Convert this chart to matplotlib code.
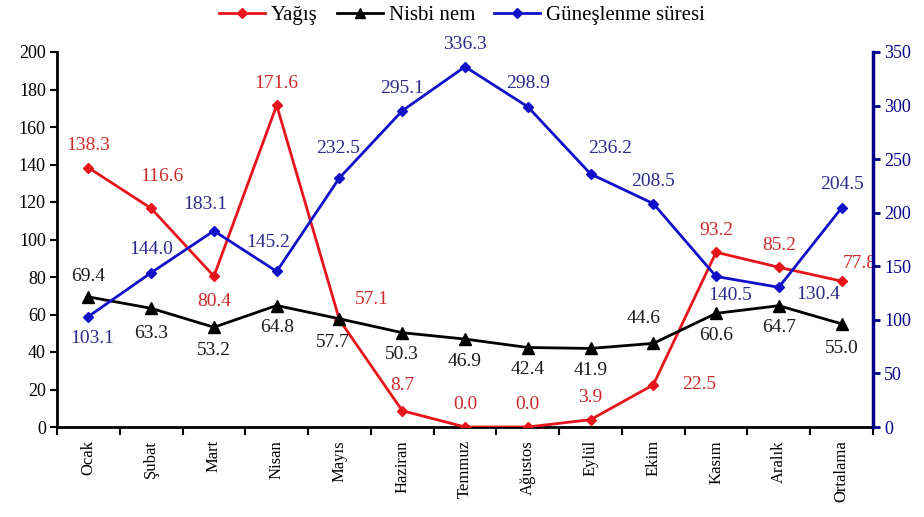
import matplotlib
matplotlib.use('Agg')
import matplotlib.pyplot as plt
import numpy as np
from matplotlib.lines import Line2D

plt.rcParams['font.family'] = ['Liberation Serif', 'DejaVu Serif']

months = ['Ocak', 'Şubat', 'Mart', 'Nisan', 'Mayıs', 'Haziran', 'Temmuz',
          'Ağustos', 'Eylül', 'Ekim', 'Kasım', 'Aralık', 'Ortalama']
yagis = [138.3, 116.6, 80.4, 171.6, 57.1, 8.7, 0.0, 0.0, 3.9, 22.5, 93.2, 85.2, 77.8]
nem = [69.4, 63.3, 53.2, 64.8, 57.7, 50.3, 46.9, 42.4, 41.9, 44.6, 60.6, 64.7, 55.0]
gunes = [103.1, 144.0, 183.1, 145.2, 232.5, 295.1, 336.3, 298.9, 236.2, 208.5,
         140.5, 130.4, 204.5]

# label offsets in points (dx, dy) for each series
off_yagis = [(0, 16), (8, 23), (0, -18), (0, 16), (23, 15), (0, 18), (0, 16),
             (0, 16), (0, 16), (33, 0), (0, 16), (0, 16), (13, 13)]
off_nem = [(0, 15), (0, -18), (0, -17), (0, -16), (-5, -17), (0, -16), (0, -16),
           (0, -16), (0, -16), (-7, 18), (0, -16), (0, -16), (0, -18)]
off_gunes = [(3, -16), (0, 17), (-6, 19), (-6, 21), (-1, 21), (0, 16), (0, 16),
             (0, 17), (14, 18), (0, 16), (10, -14), (28, -5), (0, 17)]

RED = '#e8141c'
BLACK = '#000000'
BLUE = '#1010c8'
NAVY = '#00008b'

fig = plt.figure(figsize=(9.24, 5.17), dpi=100)
ax = fig.add_axes([57/924, 90/517, 816/924, 375/517])
ax2 = ax.twinx()

x = np.arange(len(months))

ax.plot(x, yagis, color=RED, lw=2, marker='D', ms=5, zorder=3)
ax.plot(x, nem, color=BLACK, lw=2, marker='^', ms=8, zorder=3)
ax2.plot(x, gunes, color=BLUE, lw=2, marker='D', ms=5, zorder=3)

for xi, v, (dx, dy) in zip(x, yagis, off_yagis):
    ax.annotate(f'{v:.1f}', (xi, v), xytext=(dx, dy), textcoords='offset points',
                ha='center', va='center', fontsize=14, color='#cc2a2a')
for xi, v, (dx, dy) in zip(x, nem, off_nem):
    ax.annotate(f'{v:.1f}', (xi, v), xytext=(dx, dy), textcoords='offset points',
                ha='center', va='center', fontsize=14, color='#1a1a1a')
for xi, v, (dx, dy) in zip(x, gunes, off_gunes):
    ax2.annotate(f'{v:.1f}', (xi, v), xytext=(dx, dy), textcoords='offset points',
                 ha='center', va='center', fontsize=14, color='#2a2a8c')

ax.set_xlim(-0.5, len(months) - 0.5)
ax.set_ylim(0, 200)
ax.set_yticks(np.arange(0, 201, 20))
ax2.set_ylim(0, 350)
ax2.set_yticks(np.arange(0, 351, 50))

# category ticks sit between months
ax.set_xticks(np.arange(-0.5, len(months)), minor=False)
ax.set_xticklabels([])
ax.tick_params(axis='x', direction='out', length=6, width=1.5)
for xi, name in zip(x, months):
    ax.text(xi, -0.035, name, transform=ax.get_xaxis_transform(), rotation=90,
            ha='center', va='top', fontsize=12)

ax.tick_params(axis='y', direction='out', length=5, width=1.5, labelsize=13, pad=3)
ax2.tick_params(axis='y', direction='out', length=5, width=2, labelsize=13,
                colors=NAVY, pad=3)

for a in (ax, ax2):
    a.spines['top'].set_visible(False)
ax.spines['left'].set_linewidth(2)
ax.spines['bottom'].set_linewidth(2)
ax.spines['right'].set_visible(False)
ax2.spines['left'].set_visible(False)
ax2.spines['bottom'].set_visible(False)
ax2.spines['right'].set_color(NAVY)
ax2.spines['right'].set_linewidth(2.5)

handles = [Line2D([], [], color=RED, lw=2, marker='D', ms=5),
           Line2D([], [], color=BLACK, lw=2, marker='^', ms=7),
           Line2D([], [], color=BLUE, lw=2, marker='D', ms=5)]
fig.legend(handles, ['Yağış', 'Nisbi nem', 'Güneşlenme süresi'],
           loc='center', bbox_to_anchor=(0.5, 1 - 15/517), ncol=3, frameon=False,
           fontsize=15, handlelength=2.2, columnspacing=0.9, handletextpad=0.3)

fig.savefig('out.png', dpi=100)
